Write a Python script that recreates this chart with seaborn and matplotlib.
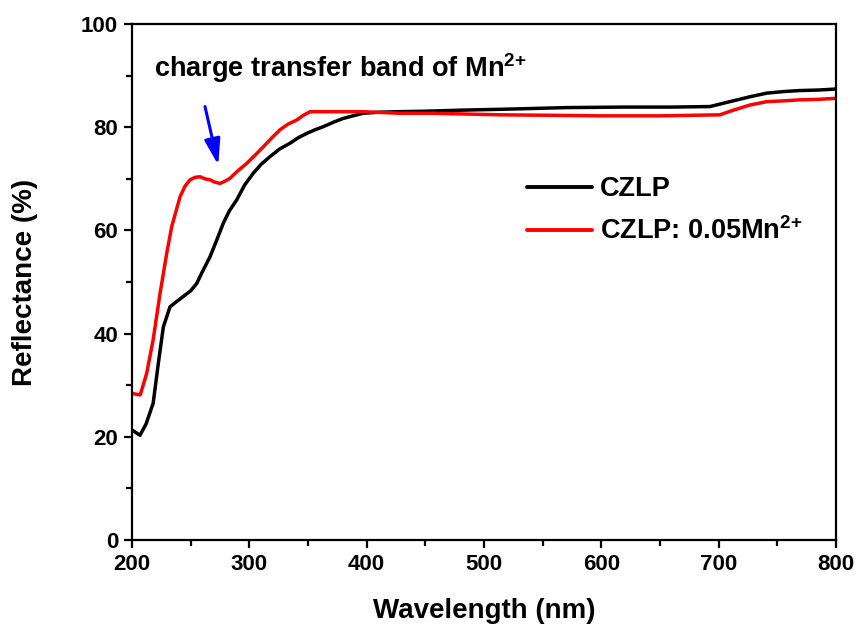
import matplotlib
matplotlib.use("Agg")
import matplotlib.pyplot as plt
import seaborn as sns
import pandas as pd
from matplotlib.ticker import MultipleLocator

# Data
wl_czlp = [200, 206.8, 212, 218, 222.4, 226.7, 232.4, 238, 243.7, 250, 255.1, 260, 266.5, 272,
           277.8, 283, 289.2, 296, 303.4, 310, 317.6, 326, 334.7, 342, 348.9, 356, 363, 372,
           380, 390, 397, 410, 425.6, 450, 480, 520, 570.5, 620, 660, 692.6, 706.8, 716,
           726.7, 741, 755, 769, 785, 800]
r_czlp = [21.3, 20.3, 22.5, 26.5, 34.2, 41.3, 45.2, 46.2, 47.2, 48.3, 49.7, 52.0, 54.9, 58.0,
          61.4, 63.8, 65.9, 68.8, 71.1, 72.8, 74.3, 75.8, 76.9, 78.0, 78.8, 79.5, 80.1, 81.0,
          81.7, 82.3, 82.7, 82.9, 83.0, 83.1, 83.3, 83.5, 83.8, 83.9, 83.9, 84.0, 84.8, 85.3,
          85.9, 86.6, 86.9, 87.1, 87.2, 87.4]

wl_mn = [200, 207, 212.5, 218, 223.9, 229.6, 233.8, 240.9, 245, 249.4, 254, 258, 262, 266.5,
         270, 275, 279, 283.5, 290, 297.8, 305, 311.9, 319, 326.1, 333, 340.4, 346, 351.7,
         360, 368.8, 380, 397, 428, 456, 513.6, 560, 599, 650, 701, 712.5, 726.7, 741,
         755, 769, 785, 800]
r_mn = [28.4, 28.1, 32.3, 38.8, 47.8, 55.6, 60.7, 66.5, 68.5, 69.8, 70.3, 70.4, 70.0, 69.8,
        69.4, 69.1, 69.5, 70.1, 71.5, 73.0, 74.6, 76.2, 77.9, 79.5, 80.6, 81.4, 82.3, 83.0,
        83.0, 83.0, 83.0, 83.0, 82.7, 82.7, 82.4, 82.3, 82.2, 82.2, 82.4, 83.3, 84.3, 84.95,
        85.1, 85.3, 85.4, 85.6]

labels = ["CZLP", "CZLP: 0.05Mn$^{2{+}}$"]
colors = ["black", "#ff0000"]

df = pd.concat([
    pd.DataFrame({"Wavelength": wl_czlp, "Reflectance": r_czlp, "Sample": labels[0]}),
    pd.DataFrame({"Wavelength": wl_mn, "Reflectance": r_mn, "Sample": labels[1]}),
])

sns.set_theme(style="ticks")
plt.rcParams["font.family"] = ["Liberation Sans", "DejaVu Sans"]
plt.rcParams["text.color"] = "black"
plt.rcParams["axes.labelcolor"] = "black"
plt.rcParams["xtick.color"] = "black"
plt.rcParams["ytick.color"] = "black"
plt.rcParams["mathtext.fontset"] = "custom"
plt.rcParams["mathtext.rm"] = "Liberation Sans:bold"
plt.rcParams["mathtext.it"] = "Liberation Sans:bold"
plt.rcParams["mathtext.bf"] = "Liberation Sans:bold"
plt.rcParams["mathtext.default"] = "bf"

fig = plt.figure(figsize=(8.59, 6.30), dpi=100)
ax = fig.add_axes([0.1537, 0.1429, 0.8195, 0.8190])

sns.lineplot(data=df, x="Wavelength", y="Reflectance", hue="Sample",
             palette=dict(zip(labels, colors)), linewidth=2.5, ax=ax, sort=True)

ax.set_xlim(200, 800)
ax.set_ylim(0, 100)
ax.xaxis.set_major_locator(MultipleLocator(100))
ax.xaxis.set_minor_locator(MultipleLocator(50))
ax.yaxis.set_major_locator(MultipleLocator(20))
ax.yaxis.set_minor_locator(MultipleLocator(10))

for s in ax.spines.values():
    s.set_linewidth(1.6)
    s.set_color("black")
    s.set_visible(True)

ax.tick_params(which="major", direction="out", length=6, width=1.6, colors="black",
               labelsize=16, pad=4)
ax.tick_params(which="minor", direction="out", length=4, width=1.6, colors="black")
for lab in ax.get_xticklabels() + ax.get_yticklabels():
    lab.set_fontweight("bold")

ax.set_xlabel("Wavelength (nm)", fontsize=20, fontweight="bold", labelpad=17, color="black")
ax.set_ylabel("Reflectance (%)", fontsize=20, fontweight="bold", labelpad=31, color="black")

leg = ax.legend(loc="upper left", bbox_to_anchor=(0.526, 0.752), frameon=False,
                handlelength=2.4, handletextpad=0.3, labelspacing=0.55,
                prop={"weight": "bold", "size": 19.5})
for line in leg.get_lines():
    line.set_linewidth(2.8)
for t in leg.get_texts():
    t.set_color("black")

ax.text(219, 91.5, "charge transfer band of Mn$^{2{+}}$", fontsize=19.5, fontweight="bold",
        va="center", ha="left", color="black")
ax.annotate("", xy=(273.5, 72.7), xytext=(262.2, 84.0),
            arrowprops=dict(arrowstyle="-|>,head_width=0.4,head_length=1.3",
                            color="#0000ff", lw=2.2, shrinkA=0, shrinkB=0))

fig.savefig("out.png", dpi=100)
